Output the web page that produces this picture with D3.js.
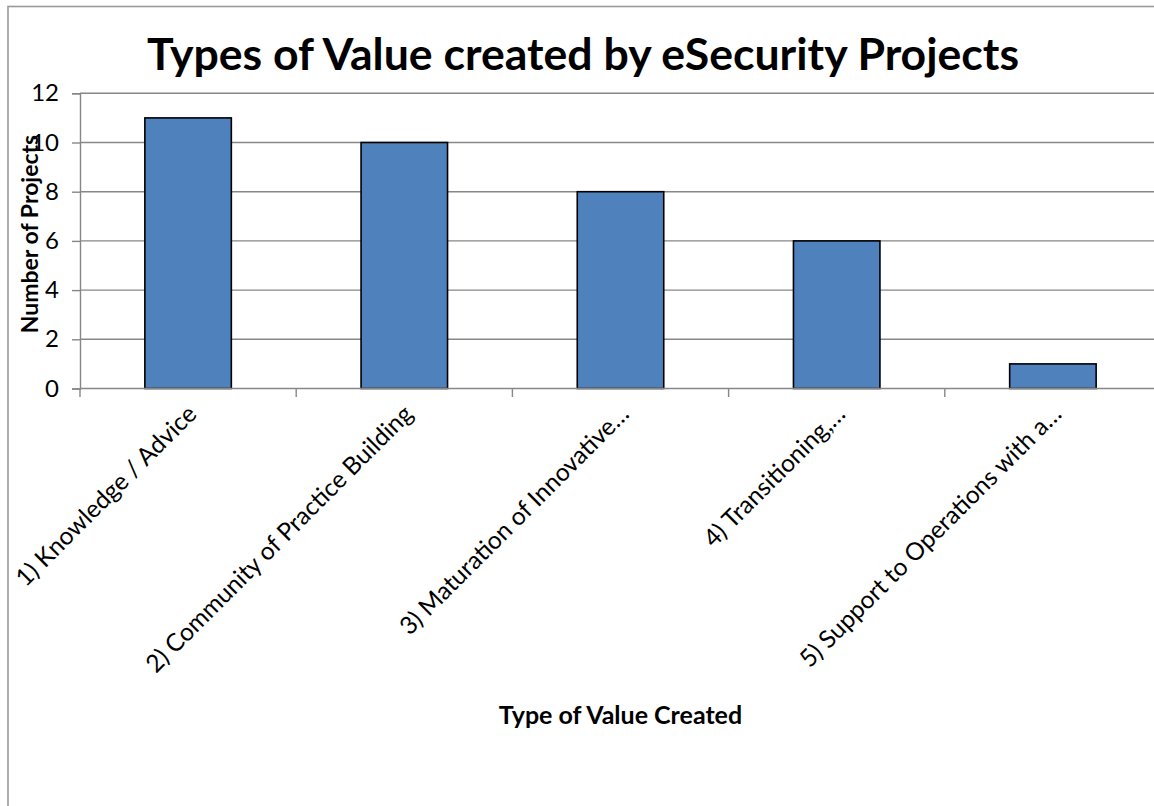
<!DOCTYPE html>
<html>
<head>
<meta charset="utf-8">
<script src="https://cdn.jsdelivr.net/npm/d3@7"></script>
<style>
  html, body { margin: 0; padding: 0; background: #ffffff; }
  svg { display: block; }
  text { font-family: Lato, "Open Sans", "Liberation Sans", sans-serif; fill: #000; }
</style>
</head>
<body>
<svg id="chart" width="1154" height="806"></svg>
<script>
// ---- data ----
const categories = [
  "1) Knowledge / Advice",
  "2) Community of Practice Building",
  "3) Maturation of Innovative…",
  "4) Transitioning,…",
  "5) Support to Operations with a…"
];
const projectCounts = [11, 10, 8, 6, 1];
const yTicks = [0, 2, 4, 6, 8, 10, 12];
const titleText = "Types of Value created by eSecurity Projects";
const xAxisTitle = "Type of Value Created";
const yAxisTitle = "Number of Projects";

// ---- layout ----
const plot = { left: 80, right: 1161, top: 93.3, bottom: 388.5 };
const svg = d3.select("#chart");

// chart area border
svg.append("rect")
  .attr("x", 8).attr("y", 6.5)
  .attr("width", 1300).attr("height", 1000)
  .attr("fill", "none").attr("stroke", "#9a9a9a").attr("stroke-width", 1.6);

const x = d3.scaleBand().domain(categories).range([plot.left, plot.right]).paddingInner(0).paddingOuter(0);
const y = d3.scaleLinear().domain([0, 12]).range([plot.bottom, plot.top]);

const gridColor = "#878787";

// y axis ticks and labels
const yAxis = d3.axisLeft(y).tickValues(yTicks).tickSize(8).tickPadding(13).tickFormat(d3.format("d"));
const gy = svg.append("g").attr("transform", `translate(${plot.left},0)`).call(yAxis);
gy.select(".domain").attr("stroke", gridColor).attr("stroke-width", 1.4);
gy.selectAll(".tick line").attr("stroke", gridColor).attr("stroke-width", 1.4);
gy.selectAll(".tick text").style("font-size", "24px").style("font-family", "Lato, sans-serif").attr("fill", "#000");

// gridlines
svg.append("g").selectAll("line.grid")
  .data(yTicks.filter(d => d > 0))
  .join("line")
  .attr("class", "grid")
  .attr("x1", plot.left).attr("x2", plot.right)
  .attr("y1", d => y(d)).attr("y2", d => y(d))
  .attr("stroke", gridColor).attr("stroke-width", 1.4);

// bars
const barW = x.bandwidth() * 0.4;
svg.append("g").selectAll("rect.bar")
  .data(categories.map((c, i) => ({ c, v: projectCounts[i] })))
  .join("rect")
  .attr("class", "bar")
  .attr("x", d => x(d.c) + (x.bandwidth() - barW) / 2)
  .attr("y", d => y(d.v))
  .attr("width", barW)
  .attr("height", d => y(0) - y(d.v))
  .attr("fill", "#4f81bd")
  .attr("stroke", "#000").attr("stroke-width", 1.6);

// x axis line + ticks at band boundaries
svg.append("line")
  .attr("x1", plot.left).attr("x2", plot.right)
  .attr("y1", y(0)).attr("y2", y(0))
  .attr("stroke", gridColor).attr("stroke-width", 1.4);
const boundaries = categories.map(c => x(c)).concat([x(categories[categories.length - 1]) + x.bandwidth()]);
svg.append("g").selectAll("line.xt")
  .data(boundaries)
  .join("line")
  .attr("x1", d => d).attr("x2", d => d)
  .attr("y1", y(0)).attr("y2", y(0) + 8.5)
  .attr("stroke", gridColor).attr("stroke-width", 1.4);

// x labels rotated -45
svg.append("g").selectAll("text.xl")
  .data(categories)
  .join("text")
  .attr("class", "xl")
  .attr("text-anchor", "end")
  .style("font-size", "24.5px")
  .attr("transform", d => `translate(${x(d) + x.bandwidth() / 2 + 10},${y(0) + 27}) rotate(-45)`)
  .text(d => d);

// title
svg.append("text")
  .attr("x", 583).attr("y", 70)
  .attr("text-anchor", "middle")
  .style("font-size", "44.6px").style("font-weight", "bold")
  .text(titleText);

// axis titles
svg.append("text")
  .attr("x", (plot.left + plot.right) / 2).attr("y", 724)
  .attr("text-anchor", "middle")
  .style("font-size", "25px").style("font-weight", "bold")
  .text(xAxisTitle);

svg.append("text")
  .attr("transform", `translate(38,234) rotate(-90)`)
  .attr("text-anchor", "middle")
  .style("font-size", "23px").style("font-weight", "bold")
  .text(yAxisTitle);
</script>
</body>
</html>
